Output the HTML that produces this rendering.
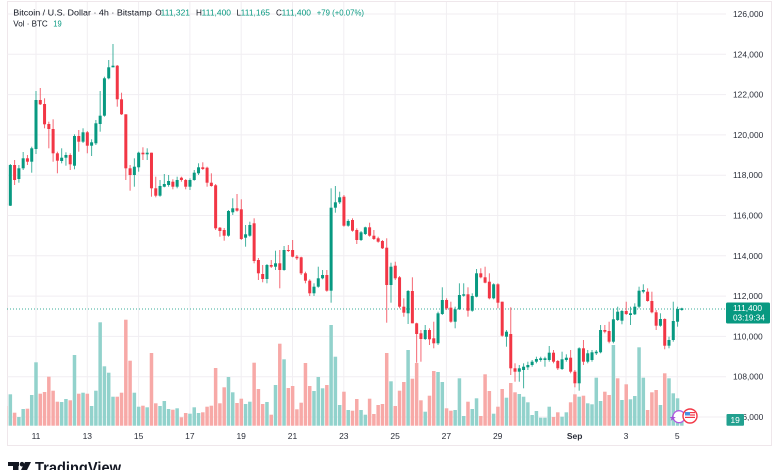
<!DOCTYPE html>
<html><head><meta charset="utf-8"><style>
html,body{margin:0;padding:0;background:#fff;width:780px;height:470px;overflow:hidden}
svg{display:block;font-family:"Liberation Sans",Arial,sans-serif}
</style></head><body>
<svg id="c" width="780" height="470" viewBox="0 0 780 470" xmlns="http://www.w3.org/2000/svg">
<defs><clipPath id="pc"><rect x="7.5" y="2" width="718.5" height="424"/></clipPath></defs>
<rect width="780" height="470" fill="#fff"/>
<rect x="7.5" y="1.5" width="764" height="444" fill="none" stroke="#efe7eb" stroke-width="1"/>
<g id="grid" stroke="#f1eef2" stroke-width="1"></g>
<g id="vol" clip-path="url(#pc)"></g>
<line x1="7" y1="309" x2="726" y2="309" stroke="#089981" stroke-width="1" stroke-dasharray="1,2" opacity="0.8"/>
<g id="cnd" clip-path="url(#pc)"></g>

<g font-size="8.2" fill="#131722">
<text x="13.3" y="15.7" textLength="138.4" lengthAdjust="spacingAndGlyphs">Bitcoin / U.S. Dollar · 4h · Bitstamp</text>
<text x="155.3" y="15.7">O</text><text x="160.7" y="15.7" fill="#089981" textLength="29.3" lengthAdjust="spacingAndGlyphs">111,321</text>
<text x="196" y="15.7">H</text><text x="201.7" y="15.7" fill="#089981" textLength="29.3" lengthAdjust="spacingAndGlyphs">111,400</text>
<text x="236.5" y="15.7">L</text><text x="240.7" y="15.7" fill="#089981" textLength="29.3" lengthAdjust="spacingAndGlyphs">111,165</text>
<text x="276" y="15.7">C</text><text x="281.7" y="15.7" fill="#089981" textLength="29.3" lengthAdjust="spacingAndGlyphs">111,400</text>
<text x="316.7" y="15.7" fill="#089981" textLength="47.3" lengthAdjust="spacingAndGlyphs">+79 (+0.07%)</text>
<text x="13.3" y="26.7" textLength="34.4" lengthAdjust="spacingAndGlyphs">Vol · BTC</text>
<text x="53.3" y="26.7" fill="#089981" textLength="8.4" lengthAdjust="spacingAndGlyphs">19</text>
</g>

<g font-size="8.4" fill="#2a2e39">
<text x="733" y="17">126,000</text>
<text x="733" y="57.3">124,000</text>
<text x="733" y="97.6">122,000</text>
<text x="733" y="137.9">120,000</text>
<text x="733" y="178.2">118,000</text>
<text x="733" y="218.5">116,000</text>
<text x="733" y="258.8">114,000</text>
<text x="733" y="299.1">112,000</text>
<text x="733" y="339.4">110,000</text>
<text x="733" y="379.7">108,000</text>
<text x="733" y="420">106,000</text>
</g>

<g font-size="8.5" fill="#2a2e39" text-anchor="middle">
<text x="36" y="439">11</text>
<text x="87.3" y="439">13</text>
<text x="138.6" y="439">15</text>
<text x="189.9" y="439">17</text>
<text x="241.2" y="439">19</text>
<text x="292.5" y="439">21</text>
<text x="343.8" y="439">23</text>
<text x="395.1" y="439">25</text>
<text x="446.4" y="439">27</text>
<text x="497.7" y="439">29</text>
<text x="574.7" y="439" font-weight="bold">Sep</text>
<text x="626" y="439">3</text>
<text x="677.3" y="439">5</text>
</g>

<rect x="726" y="302.5" width="44" height="21" rx="1.5" fill="#089981"/>
<text x="733" y="310.8" font-size="8.4" fill="#fff">111,400</text>
<text x="733" y="320.6" font-size="8.2" fill="#fff">03:19:34</text>
<rect x="726.5" y="414" width="17.5" height="11.7" rx="1" fill="#22a08f"/>
<text x="730.5" y="423" font-size="8.4" fill="#fff">19</text>

<circle cx="679" cy="416.7" r="6" fill="#fff" stroke="#b45be0" stroke-width="1.3"/>
<path d="M672.7 414.8 l0.8 2.2 2.3 0.1 -1.8 1.4 0.7 2.3 -2 -1.3 -2 1.3 0.7 -2.3 -1.8 -1.4 2.3 -0.1z" fill="#a34fd8"/>
<circle cx="690" cy="416" r="7" fill="#fff" stroke="#f23645" stroke-width="1.4"/>
<rect x="685" y="412" width="10" height="7" fill="#fff"/>
<rect x="685" y="412" width="5" height="3.5" fill="#4a90e2"/>
<rect x="690" y="412" width="5" height="1.2" fill="#f23645"/>
<rect x="690" y="414.4" width="5" height="1.2" fill="#f23645"/>
<rect x="685" y="416.8" width="10" height="1.2" fill="#f23645"/>

<g fill="#131722">
<rect x="8" y="462" width="11" height="4"/>
<rect x="13" y="462" width="5.5" height="9"/>
<circle cx="22" cy="464.2" r="2.3"/>
<polygon points="25,462 31,462 26.5,471 20.5,471"/>
<text x="35" y="473" font-size="15.5" font-weight="bold" textLength="86" lengthAdjust="spacingAndGlyphs">TradingView</text>
</g>
</svg>
<script>
(function(){
var NS="http://www.w3.org/2000/svg";
function el(p,t,a){var e=document.createElementNS(NS,t);for(var k in a)e.setAttribute(k,a[k]);p.appendChild(e);return e;}
var grid=document.getElementById('grid');
var hy=[14,54.3,94.6,134.9,175.2,215.5,255.8,296.1,336.4,376.7,417];
hy.forEach(function(y){el(grid,'line',{x1:7.5,x2:726,y1:y,y2:y});});
var vx=[36,87.3,138.6,189.9,241.2,292.5,343.8,395.1,446.4,497.7,574.7,626,677.3];
vx.forEach(function(x){el(grid,'line',{x1:x,x2:x,y1:2,y2:426});});

var C="r,203.5,205,203,206;g,165,205.7,164,206;r,165,180,160,185;g,168.3,179,165,182.7;g,158.3,168.3,152,170;r,158.3,161.7,155,165;g,148.3,161.7,146.7,172.7;g,100,149,91,154;r,100,104.3,88,105;r,104,124.3,98.3,128.3;r,124,129,121.7,148.3;r,129,153.3,119.3,161.7;r,153.3,160.7,151.7,173.3;g,157.7,161,148.3,163.3;g,155,157.7,152.3,165.7;r,155,164.3,153.3,170;g,136,165.7,134.3,169.3;r,136,141.7,130,151.7;g,132.3,141.7,128.3,143;r,132.3,145.7,131,153.3;g,142.3,145.7,139.3,156;g,123.3,143.3,120,145;g,115.7,124,91,131.7;g,78.3,115.7,76.7,116.7;g,67.3,78.3,60,79.3;g,65.7,67.3,44,67.3;r,65.7,99.3,65,106.7;r,99.3,114.3,92.7,115;r,114.3,168.3,114.3,180;r,168.3,175,165,190.7;g,166.7,175,158.3,186.7;g,152.7,167.3,151.7,171.7;r,152.7,154.3,147.3,160;g,152.7,154.3,148.3,160;r,152.7,188.3,152.7,196.7;r,188.3,195.7,176.7,197.3;g,186,195.7,180,196.7;g,184,186.7,174,187.3;g,181,185,175,186.7;r,181.7,186.7,179.3,189.3;g,180,186.7,176.7,188.3;r,177.7,180,176.7,181.7;r,180,186.7,179,189.3;g,180,186.7,178.3,190;g,172.7,180,170,180.7;g,167.3,173.3,163.3,175;r,167.3,169,162.3,170;r,167.7,182.7,166.7,186.7;r,182.7,186,173.3,186.7;r,185.3,228.3,184,230;r,227.7,231,227,236.7;r,230,235.7,228,240.7;g,211,235.7,210,236.7;g,208.3,212.3,198.3,215;r,208.3,210.7,194,211.7;r,209.3,239,199.3,240;g,234.3,237.7,225,246.7;g,225,235.7,221.7,236.7;r,223.3,261,218.3,263.3;r,260,273.3,258,280;r,274,279,265,282.3;g,265,279,264,283.3;r,265,266.7,260,268;g,263.3,266.7,250.7,270;r,263.3,270,250,288.3;g,250,270,246,270.7;r,250,251,245,252;r,250,256.7,240,257.3;r,256.7,258.3,255,260;r,257.3,273.3,256.7,275;r,273.3,280.7,271.7,283.3;r,280.7,293.3,279.3,296;g,286.7,293.3,283.3,296;g,278.3,286.7,266.7,287.7;g,275,278.3,270,279.3;r,275,290.7,270,291.7;g,207.7,290.7,188.3,302.7;g,202.3,207.7,186,212.7;g,197.3,202.3,191.7,204;r,196.7,225.7,195,226.7;g,221,225.7,219.3,226.7;r,220,230.7,218.3,231.7;r,230,240,228.3,244;g,232.3,240,231,241;g,227.3,234,226.7,235;r,227.3,235.7,222.7,236.7;r,235.7,239,230,240;r,238.3,241.7,236.7,242.7;r,241,248.3,240,249;r,247.7,285,238.3,322.7;g,266.7,285,262.7,302.7;r,265.7,278.3,261.7,280;r,277.3,306.7,276,308.3;r,306.7,312.7,298.3,316.7;g,291,313.3,290,324;r,291,323.3,277.3,323.3;r,323.3,334,322.7,362.7;r,333.3,339,330,361.7;g,330,339,325,340;r,330,339.3,328.3,345;r,338.3,343.3,321.7,348.3;g,313.3,343.3,311.7,345;g,300,314,287.3,315;r,300,308.3,298.3,310;r,307.7,321.7,301.7,322.7;g,309.3,321.7,306.7,328.3;g,295,309.3,283.3,310;g,294.3,295.7,283.3,296.7;r,294.3,310.7,287.3,316.7;g,296,310.7,293.3,311.7;g,273.3,296.7,269,297.3;r,273.3,277.3,268.3,278.3;r,277.3,282.7,266.7,283.3;r,281.7,298.3,273.3,299.3;g,284.3,298.3,283.3,299.3;r,284.3,302.7,283.3,308.3;r,301.7,335.7,301.7,336.7;g,331.7,336.7,330,346.7;r,334,368.3,307.3,375;r,368.3,371.7,363.3,381.7;g,368.3,371.7,365,381.7;g,366.7,370,363.3,388.3;g,365,367.3,361.7,370;g,361.7,365,360,366.7;g,359,361.7,356.7,363.3;g,358.3,360,356.7,361.7;g,358.3,360,356.7,366.7;g,352.7,360,346,361.7;r,352.7,361.7,350,363.3;r,361,368.3,360,370;g,359.3,369,351.7,370;g,357.7,360,354.3,361.7;r,357.7,371.7,350,373.3;r,371.7,383.3,370,387.3;g,348.3,383.3,347.3,390.7;r,348.3,361.7,340,365;g,353.3,361.7,350,363.3;g,352.3,360,350,361.7;g,351.7,353.3,350,355;g,330,352.3,325,353.3;r,330,331.7,325,333.3;r,331,341.7,321.7,343.3;g,319.3,341.7,308.3,343.3;g,311.7,320,306.7,321;g,311,320.7,310,324.3;r,311,314,301.7,315;g,313.3,315,306.7,325;g,306.7,314.3,303.3,315;g,290.7,306.7,286.7,308.3;g,290,291.7,284.3,293.3;r,291.7,301,288.3,301.7;r,301,312.3,291.7,313.3;r,312.3,325.7,310,330;g,319,325.7,313.3,326.7;r,319,345.7,318.3,349.3;g,340,345.7,336.7,348.3;g,321,340,301.7,341.7;g,309,321.7,306.7,326.7;g,308.3,310,307.7,310.7";
var V=[406,394.3,412.7,417,409,408.7,395,362.3,393.7,392,376.7,390.7,401.7,402,399,400.3,355,393.7,392.7,393.7,406,390.7,322.3,366.3,372.7,396.7,396.7,392.7,319.7,360.7,392.7,406.7,405.7,407.3,353,403.3,406,401,409,409.7,408.3,417.3,413,413.7,407.3,413,412.3,406.7,405.7,368,403.3,387.3,377,392.3,403,398.7,404,401.7,362.7,389,404,402,414.7,385,343.7,359.3,388,386,409.3,402.7,363,386,391,377,388.3,385,325,356.7,405,391.7,410,410.7,399,410,414.7,398.7,414,405,404,353,381.3,406,390.7,382,350,378.7,363,400.3,411.7,395.7,371,372,382,408.3,410.7,410,378.3,416,401.7,409,398.3,416,374.3,391,413.7,406.7,389,397.7,383,392.3,394,396.7,402.3,415,411,417.7,417.7,406.7,417,412.3,416.7,412.3,402.3,394.3,396.7,395.7,403.3,404.3,377.7,401,391.7,395,345,378.3,400,384.3,399.3,396,347.3,377.7,410,392.3,390,405,373.3,378.3,393.3,398.3,420];
var VC={136:'r'};
var rows=C.split(';');
var vol=document.getElementById('vol'), cnd=document.getElementById('cnd');
var GC="#089981", RC="#f23645", GV="#92d2cc", RV="#f7a9a7";
var base=425.7;
for(var k=0;k<rows.length;k++){
  var i=k-7; var x=36+4.277*i;
  var p=rows[k].split(','); var t=p[0];
  var bt=+p[1], bb=+p[2], wt=+p[3], wb=+p[4];
  var vt=V[k];
  var vc=(VC[i]||t)==='g'?GV:RV;
  if(vt!==undefined) el(vol,'rect',{x:(x-1.75).toFixed(2),y:vt,width:3.5,height:(base-vt).toFixed(2),fill:vc});
  var col=t==='g'?GC:RC;
  el(cnd,'rect',{x:(x-0.5).toFixed(2),y:wt,width:1,height:Math.max(0.5,wb-wt).toFixed(2),fill:col,opacity:0.75});
  var h=Math.max(1,bb-bt);
  el(cnd,'rect',{x:(x-1.5).toFixed(2),y:bt,width:3,height:h.toFixed(2),fill:col});
}
})();
</script>
</body></html>
